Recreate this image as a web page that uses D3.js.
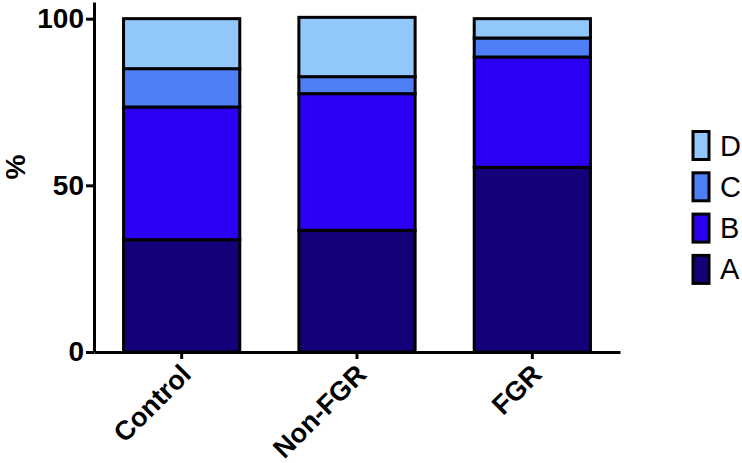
<!DOCTYPE html>
<html>
<head>
<meta charset="utf-8">
<script src="https://cdn.jsdelivr.net/npm/d3@7"></script>
<style>
  body { margin: 0; background: #fff; }
  svg { display: block; font-family: "Liberation Sans", Arial, sans-serif; }
</style>
</head>
<body>
<svg width="742" height="463"></svg>
<script>
var categories = ["Control", "Non-FGR", "FGR"];
var seriesNames = ["A", "B", "C", "D"];
var valuesA = [33.7, 36.5, 55.4];
var valuesB = [39.8, 41.0, 33.1];
var valuesC = [11.5, 5.1, 5.7];
var valuesD = [15.0, 17.8, 5.8];
var yTicks = [0, 50, 100];

var colors = {A: "#160079", B: "#2d00f6", C: "#4e7ff7", D: "#92c7fb"};

var svg = d3.select("svg");

var rows = categories.map(function (c, i) {
    return {cat: c, A: valuesA[i], B: valuesB[i], C: valuesC[i], D: valuesD[i]};
});

var x = d3.scaleBand()
    .domain(categories)
    .range([94, 620])
    .paddingInner(0.32)
    .paddingOuter(0.16);

var y = d3.scaleLinear()
    .domain([0, 105])
    .range([352, 2]);

var stack = d3.stack().keys(seriesNames)(rows);

var layers = svg.append("g").selectAll("g")
    .data(stack)
    .enter().append("g")
    .attr("fill", function (d) { return colors[d.key]; });

layers.selectAll("rect")
    .data(function (d) { return d; })
    .enter().append("rect")
    .attr("x", function (d) { return x(d.data.cat) + 1.5; })
    .attr("width", x.bandwidth() - 3)
    .attr("y", function (d) { return y(d[1]); })
    .attr("height", function (d) { return y(d[0]) - y(d[1]); })
    .attr("stroke", "#000")
    .attr("stroke-width", 3);

// y axis
var yAxis = svg.append("g")
    .attr("transform", "translate(94,0)")
    .call(d3.axisLeft(y).tickValues(yTicks).tickSize(8).tickPadding(2).tickSizeOuter(0));
yAxis.select(".domain").attr("stroke-width", 3);
yAxis.selectAll(".tick line").attr("stroke-width", 3);
yAxis.selectAll(".tick text")
    .attr("font-size", 28)
    .attr("font-weight", "bold")
    .attr("fill", "#000")
    .attr("font-family", "Liberation Sans, Arial, sans-serif");

// x axis
var xAxis = svg.append("g")
    .attr("transform", "translate(0,352)")
    .call(d3.axisBottom(x).tickSize(7).tickSizeOuter(0));
xAxis.select(".domain").attr("stroke-width", 3);
xAxis.selectAll(".tick line").attr("stroke-width", 3);
xAxis.selectAll(".tick text")
    .attr("font-size", 27)
    .attr("font-weight", "bold")
    .attr("fill", "#000")
    .attr("font-family", "Liberation Sans, Arial, sans-serif")
    .attr("text-anchor", "end")
    .attr("dy", null)
    .attr("y", 0)
    .attr("transform", "translate(11,24) rotate(-45)");

// y label
svg.append("text")
    .attr("transform", "translate(25,167) rotate(-90)")
    .attr("text-anchor", "middle")
    .attr("font-size", 28)
    .attr("font-weight", "bold")
    .text("%");

// legend
var legend = svg.append("g").selectAll("g")
    .data(seriesNames.slice().reverse())
    .enter().append("g")
    .attr("transform", function (d, i) { return "translate(693," + (131.5 + i * 41.3) + ")"; });

legend.append("rect")
    .attr("width", 16)
    .attr("height", 28)
    .attr("fill", function (d) { return colors[d]; })
    .attr("stroke", "#000")
    .attr("stroke-width", 3);

legend.append("text")
    .attr("x", 27)
    .attr("y", 24)
    .attr("font-size", 29)
    .text(function (d) { return d; });
</script>
</body>
</html>
